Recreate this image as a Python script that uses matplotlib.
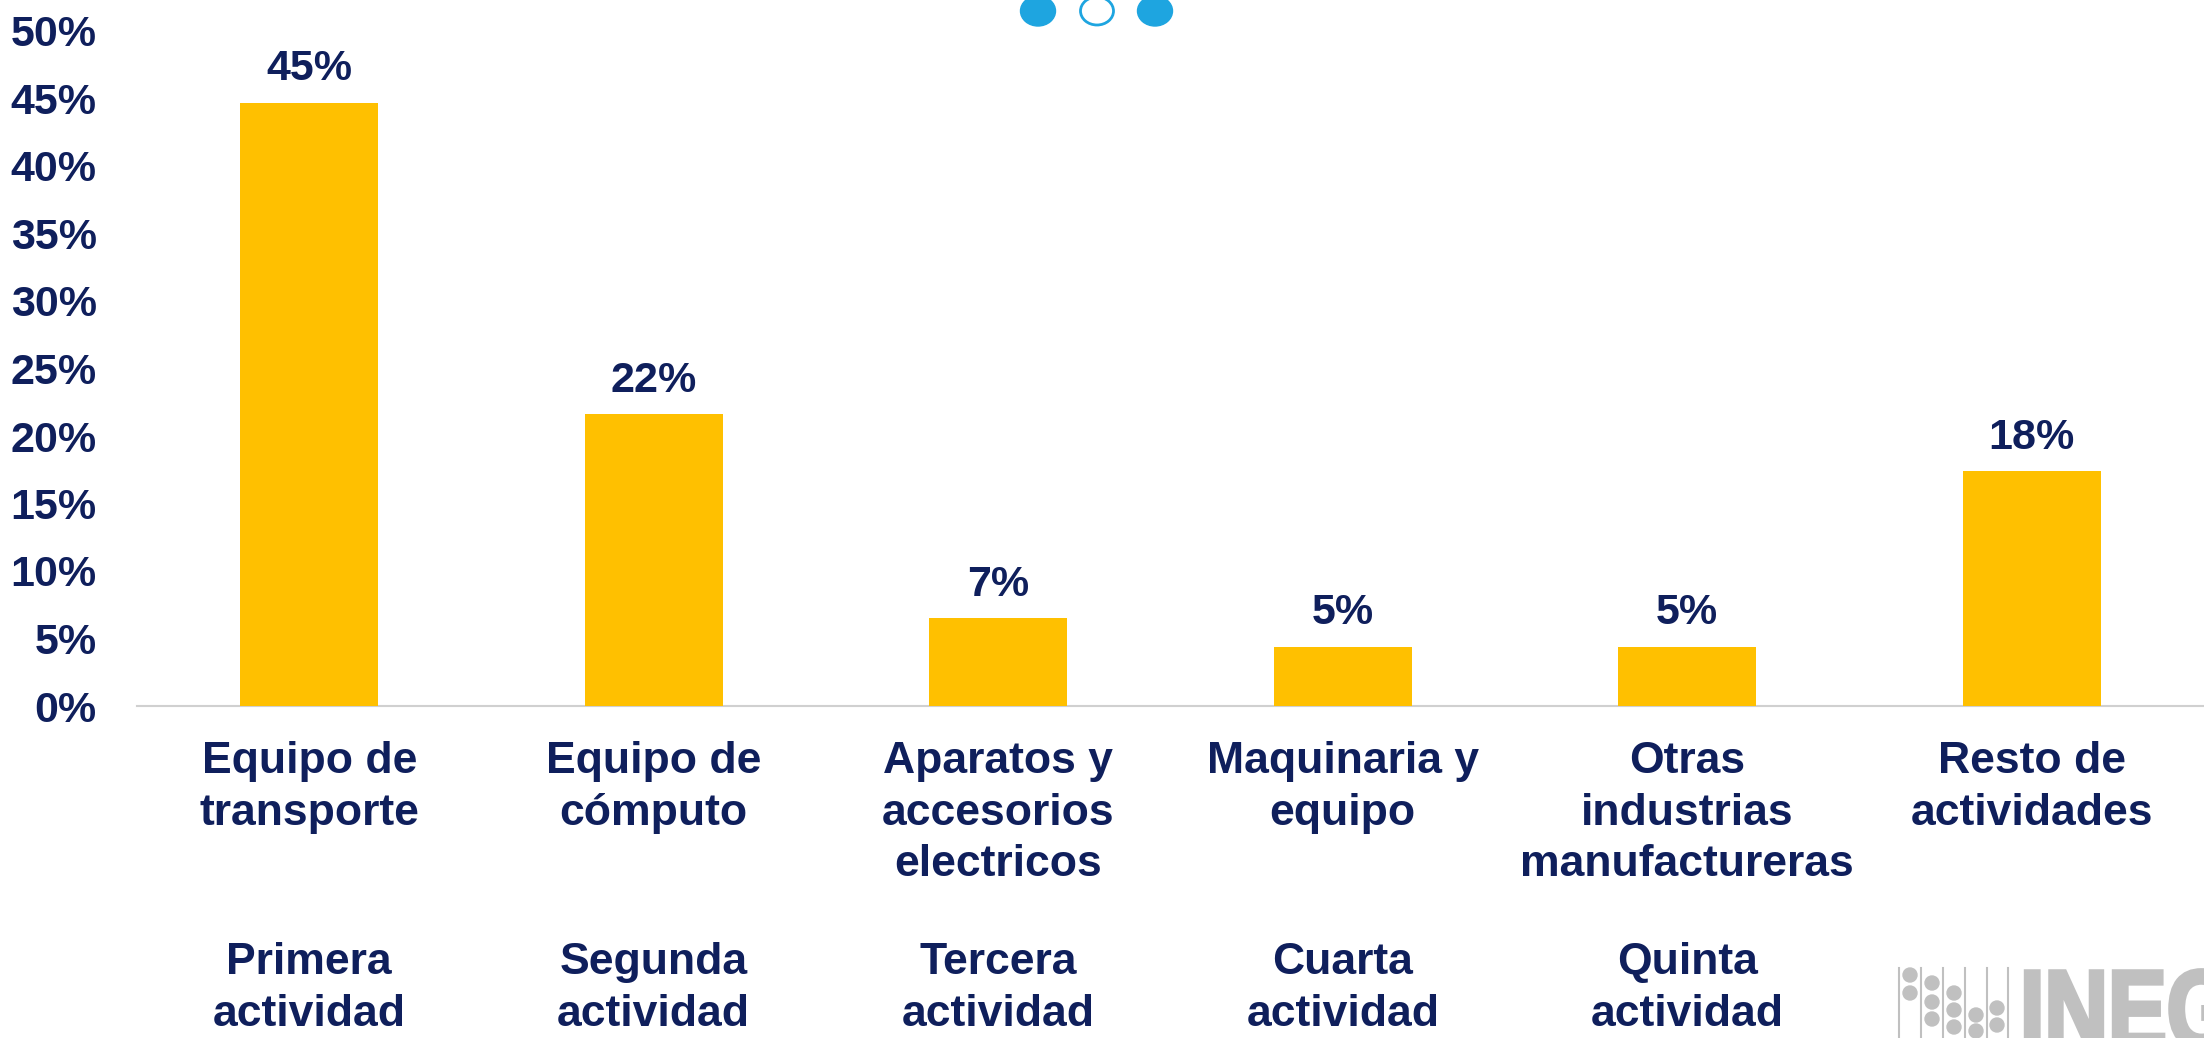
import matplotlib
matplotlib.use("Agg")
import matplotlib.pyplot as plt
from matplotlib.patches import Circle, Ellipse, PathPatch
from matplotlib.textpath import TextPath
from matplotlib.font_manager import FontProperties
from matplotlib.transforms import Affine2D

# data
categories = ["Equipo de\ntransporte", "Equipo de\ncómputo", "Aparatos y\naccesorios\nelectricos",
              "Maquinaria y\nequipo", "Otras\nindustrias\nmanufactureras", "Resto de\nactividades"]
ranks = ["Primera\nactividad", "Segunda\nactividad", "Tercera\nactividad",
         "Cuarta\nactividad", "Quinta\nactividad", ""]
shares = [44.7, 21.6, 6.5, 4.4, 4.4, 17.4]
share_labels = ["45%", "22%", "7%", "5%", "5%", "18%"]
yticks = [0, 5, 10, 15, 20, 25, 30, 35, 40, 45, 50]

navy = "#0f1f5c"
gold = "#ffc000"
blue = "#1ea5e0"
grey = "#c0c0c0"

plt.rcParams['font.family'] = ['Liberation Sans', 'DejaVu Sans']
plt.rcParams['font.weight'] = 'bold'

W, H = 2204, 1038
fig = plt.figure(figsize=(W / 100, H / 100), dpi=100)
ax = fig.add_axes([137 / W, 1 - 706 / H, 1 - 137 / W, 675 / H])

x = list(range(len(categories)))
ax.bar(x, shares, width=0.4, color=gold, zorder=3)
for xi, v, lab in zip(x, shares, share_labels):
    ax.annotate(lab, (xi, v), xytext=(0, 16), textcoords='offset points',
                ha='center', va='baseline', fontsize=31, color=navy, fontweight='bold')

ax.set_xlim(-0.5, 5.5)
ax.set_ylim(0, 50)
ax.set_yticks(yticks)
ax.set_yticklabels([f"{t}%" for t in yticks])
ax.set_xticks(x)
ax.set_xticklabels(categories, linespacing=1.34)
ax.tick_params(axis='y', length=0, pad=29, labelsize=31, labelcolor=navy)
ax.tick_params(axis='x', length=0, pad=25, labelsize=32, labelcolor=navy)
for t in ax.get_xticklabels() + ax.get_yticklabels():
    t.set_fontweight('bold')

for s in ['top', 'right', 'left']:
    ax.spines[s].set_visible(False)
ax.spines['bottom'].set_color('#d0d0d0')
ax.spines['bottom'].set_linewidth(1.5)

for xi, r in zip(x, ranks):
    ax.text(xi, -(942 - 706) / 675, r, transform=ax.get_xaxis_transform(),
            ha='center', va='top', fontsize=32, color=navy, fontweight='bold',
            linespacing=1.34)

# decorations in pixel space: carousel dots and the logo
deco = fig.add_axes([0, 0, 1, 1], zorder=5)
deco.set_xlim(0, W)
deco.set_ylim(H, 0)
deco.axis('off')
deco.patch.set_alpha(0)

deco.add_patch(Ellipse((1038, 11), 35, 30, color=blue))
deco.add_patch(Ellipse((1097, 11), 33, 28, facecolor='white', edgecolor=blue, linewidth=2))
deco.add_patch(Ellipse((1155, 11), 35, 30, color=blue))

for lx in [1899, 1921, 1943, 1965, 1987, 2008]:
    deco.plot([lx, lx], [968, H], color=grey, linewidth=1.5)
dots = [(1910, 975), (1910, 993), (1932, 983), (1932, 1002), (1932, 1019),
        (1954, 993), (1954, 1010), (1954, 1027), (1976, 1015), (1976, 1031),
        (1997, 1008), (1997, 1025)]
for cx, cy in dots:
    deco.add_patch(Circle((cx, cy), 7, color=grey))

# logo lettering, squeezed sideways like the original
tp = TextPath((0, 0), "INEGI", size=110, prop=FontProperties(family='Liberation Sans', weight='bold'))
squeeze = Affine2D().scale(0.8, -1).translate(2020, 1047)
deco.add_patch(PathPatch(squeeze.transform_path(tp), facecolor=grey, edgecolor=grey, linewidth=3))

fig.savefig("out.png", dpi=100)
